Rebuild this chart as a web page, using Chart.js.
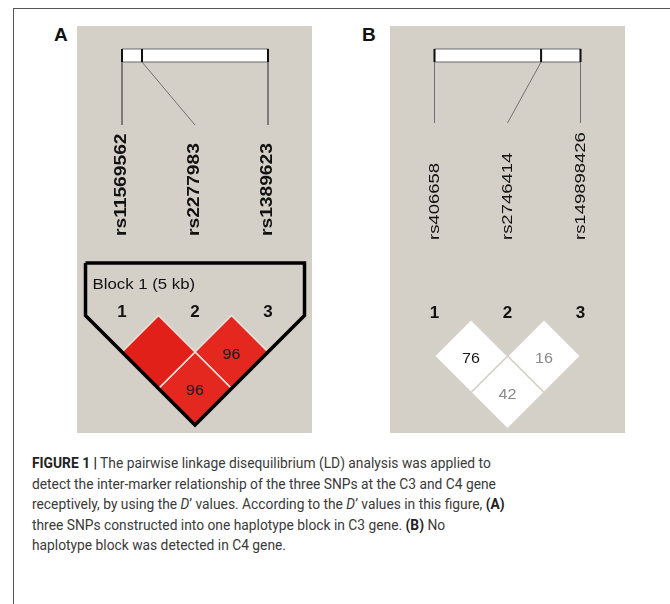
<!DOCTYPE html>
<html><head><meta charset="utf-8">
<script src="https://cdn.jsdelivr.net/npm/chart.js@4.4.1/dist/chart.umd.min.js"></script>
<style>
html,body{margin:0;padding:0;background:#fff;width:670px;height:604px;overflow:hidden;position:relative;}
#frame{position:absolute;left:13px;top:8px;width:700px;height:700px;border-top:1.5px solid #555;border-left:1.5px solid #555;}
.panel{position:absolute;top:26px;width:235px;height:407px;background:#d4d0c8;}
#pa{left:77px} #pb{left:390px}
.plabel{position:absolute;font:bold 19px "Liberation Sans",Arial,sans-serif;color:#111;line-height:19px;}
#caption{position:absolute;left:32px;top:453px;font-family:Roboto,"Liberation Sans",sans-serif;font-weight:400;font-size:15.5px;line-height:20.5px;color:#3a3a3a;white-space:nowrap;transform:scaleX(0.89);transform-origin:0 0;}
#caption b{font-weight:700;color:#222;}
</style></head>
<body>
<div id="frame"></div>
<div class="plabel" style="left:54px;top:25px">A</div>
<div class="plabel" style="left:362px;top:25px">B</div>
<canvas id="pa" class="panel" width="235" height="407"></canvas>
<canvas id="pb" class="panel" width="235" height="407"></canvas>
<div id="caption"><b>FIGURE 1 |</b> The pairwise linkage disequilibrium (LD) analysis was applied to<br>detect the inter-marker relationship of the three SNPs at the C3 and C4 gene<br>receptively, by using the <i>D</i>’ values. According to the <i>D</i>’ values in this figure, <b>(A)</b><br>three SNPs constructed into one haplotype block in C3 gene. <b>(B)</b> No<br>haplotype block was detected in C4 gene.</div>
<script>
// ---------------- data ----------------
const snpsA = ['rs11569562', 'rs2277983', 'rs1389623'];
const snpsB = ['rs406658', 'rs2746414', 'rs149898426'];
// relative physical position of each marker along the region bar (0..1)
const markerPosA = [0, 0.137, 1];
const markerPosB = [0, 0.73, 1];
// marker pairs (i, j) and pairwise D' (x100; 100 shown blank)
const pairs = [[1, 2], [1, 3], [2, 3]];
const dprimeA = [100, 96, 96];
const dprimeB = [76, 42, 16];
// LOD significance per pair
const lodA = ['high', 'high', 'high'];
const lodB = ['low', 'low', 'low'];
// haplotype blocks
const blocksA = [[1, 3]];
const blockLabelsA = ['Block 1 (5 kb)'];
const blocksB = [];
const blockLabelsB = [];

// ---------------- drawing ----------------
const U = 73; // px per marker unit
function cellFill(lod, d) {
  if (lod === 'high') return d >= 100 ? '#e1201a' : '#e4271f';
  return '#ffffff';
}
function textColor(lod, d) {
  if (lod === 'high') return '#1a1a1a';
  return d >= 50 ? '#1a1a1a' : '#8a8a8a';
}

function makePanel(id, o) {
  const W = 235, H = 407;
  const xmin = 1 - (o.m1 - o.left) / U, xmax = xmin + W / U;
  const py = v => (v - o.zero) / U;
  const ymin = py(o.top), ymax = ymin + H / U;
  const n = o.snps.length;
  const barT = py(49), barB = py(62), lineEnd = py(o.lineEndY);
  const physX = o.pos.map(p => 1 + p * (n - 1));
  const ds = [];
  // block outline
  o.blocks.forEach(([a, b]) => {
    const top = py(263);
    ds.push({data: [{x: a - 0.5, y: top}, {x: a - 0.5, y: 0}, {x: (a + b) / 2, y: (b - a) / 2 + 0.5},
      {x: b + 0.5, y: 0}, {x: b + 0.5, y: top}, {x: a - 0.5, y: top}],
      borderColor: '#000', borderWidth: 3.5, fill: false, order: 0, borderJoinStyle: 'miter'});
  });
  // LD cells
  pairs.forEach(([i, j], k) => {
    const cx = (i + j) / 2, cy = (j - i) / 2;
    ds.push({data: [{x: cx, y: cy - 0.5}, {x: cx + 0.5, y: cy}, {x: cx, y: cy + 0.5}, {x: cx - 0.5, y: cy}, {x: cx, y: cy - 0.5}],
      borderColor: o.cellBorder, borderWidth: 1.5, fill: 'shape', backgroundColor: cellFill(o.lod[k], o.dp[k]), order: 2});
  });
  // region bar
  ds.push({data: [{x: 1, y: barT}, {x: n, y: barT}, {x: n, y: barB}, {x: 1, y: barB}, {x: 1, y: barT}],
    borderColor: '#6a6a6a', borderWidth: 1.2, fill: 'shape', backgroundColor: '#ffffff', order: 3});
  physX.forEach((px, i) => {
    ds.push({data: [{x: px, y: barT}, {x: px, y: barB}], borderColor: '#111', borderWidth: 2, fill: false, order: 1});
    ds.push({data: [{x: px, y: barB}, {x: i + 1, y: lineEnd}], borderColor: '#707070', borderWidth: 1, fill: false, order: 1});
  });
  ds.forEach(d => { d.showLine = true; d.pointRadius = 0; d.tension = 0; d.clip = false; });

  const textPlugin = {
    id: 'ldtext',
    afterDatasetsDraw(chart) {
      const ctx = chart.ctx, X = chart.scales.x, Y = chart.scales.y;
      ctx.save();
      // SNP names
      o.snps.forEach((s, i) => {
        ctx.save();
        ctx.translate(X.getPixelForValue(i + 1), Y.getPixelForValue(py(o.labelY)));
        ctx.rotate(-Math.PI / 2);
        ctx.scale(o.labelStretch, 1);
        ctx.font = o.labelFont; ctx.fillStyle = '#111';
        ctx.textAlign = 'left'; ctx.textBaseline = 'middle';
        ctx.fillText(s, 0, 0);
        ctx.restore();
      });
      // marker numbers
      ctx.font = 'bold 17px "Liberation Sans", Arial, sans-serif';
      ctx.fillStyle = '#111'; ctx.textAlign = 'center'; ctx.textBaseline = 'middle';
      o.snps.forEach((s, i) => ctx.fillText(String(i + 1), X.getPixelForValue(i + 1), Y.getPixelForValue(py(o.numY))));
      // block labels
      o.blocks.forEach(([a, b], k) => {
        ctx.save();
        ctx.translate(X.getPixelForValue(a - 0.5) + 7, Y.getPixelForValue(py(285)));
        ctx.scale(1.12, 1);
        ctx.font = '15px "Liberation Sans", Arial, sans-serif';
        ctx.textAlign = 'left'; ctx.fillStyle = '#111';
        ctx.fillText(o.blockLabels[k], 0, 0);
        ctx.restore();
      });
      // D' values
      pairs.forEach(([i, j], k) => {
        const d = o.dp[k];
        if (d >= 100) return;
        const cx = X.getPixelForValue((i + j) / 2), cy = Y.getPixelForValue((j - i) / 2);
        ctx.save();
        ctx.translate(cx, cy + 3);
        ctx.scale(1.15, 1);
        ctx.font = '14px "Liberation Sans", Arial, sans-serif';
        ctx.fillStyle = textColor(o.lod[k], d);
        ctx.textAlign = 'center'; ctx.textBaseline = 'middle';
        ctx.fillText(String(d), 0, 0);
        ctx.restore();
      });
      ctx.restore();
    }
  };

  new Chart(document.getElementById(id), {
    type: 'scatter',
    data: {datasets: ds},
    options: {
      responsive: false, animation: false, events: [],
      layout: {padding: 0},
      plugins: {legend: {display: false}, tooltip: {enabled: false}},
      scales: {
        x: {type: 'linear', min: xmin, max: xmax, display: false},
        y: {type: 'linear', min: ymin, max: ymax, reverse: true, display: false}
      }
    },
    plugins: [textPlugin]
  });
}

makePanel('pa', {left: 77, top: 26, m1: 122, zero: 315.5, lineEndY: 125, labelY: 236, numY: 312,
  snps: snpsA, pos: markerPosA, dp: dprimeA, lod: lodA, blocks: blocksA, blockLabels: blockLabelsA,
  labelFont: 'bold 16px "Liberation Sans", Arial, sans-serif', labelStretch: 1.2, cellBorder: '#ece6e0'});
makePanel('pb', {left: 390, top: 26, m1: 434.5, zero: 319.5, lineEndY: 123, labelY: 240, numY: 313,
  snps: snpsB, pos: markerPosB, dp: dprimeB, lod: lodB, blocks: blocksB, blockLabels: blockLabelsB,
  labelFont: '15px "Liberation Sans", Arial, sans-serif', labelStretch: 1.23, cellBorder: '#d4d0c8'});
</script>
</body></html>
